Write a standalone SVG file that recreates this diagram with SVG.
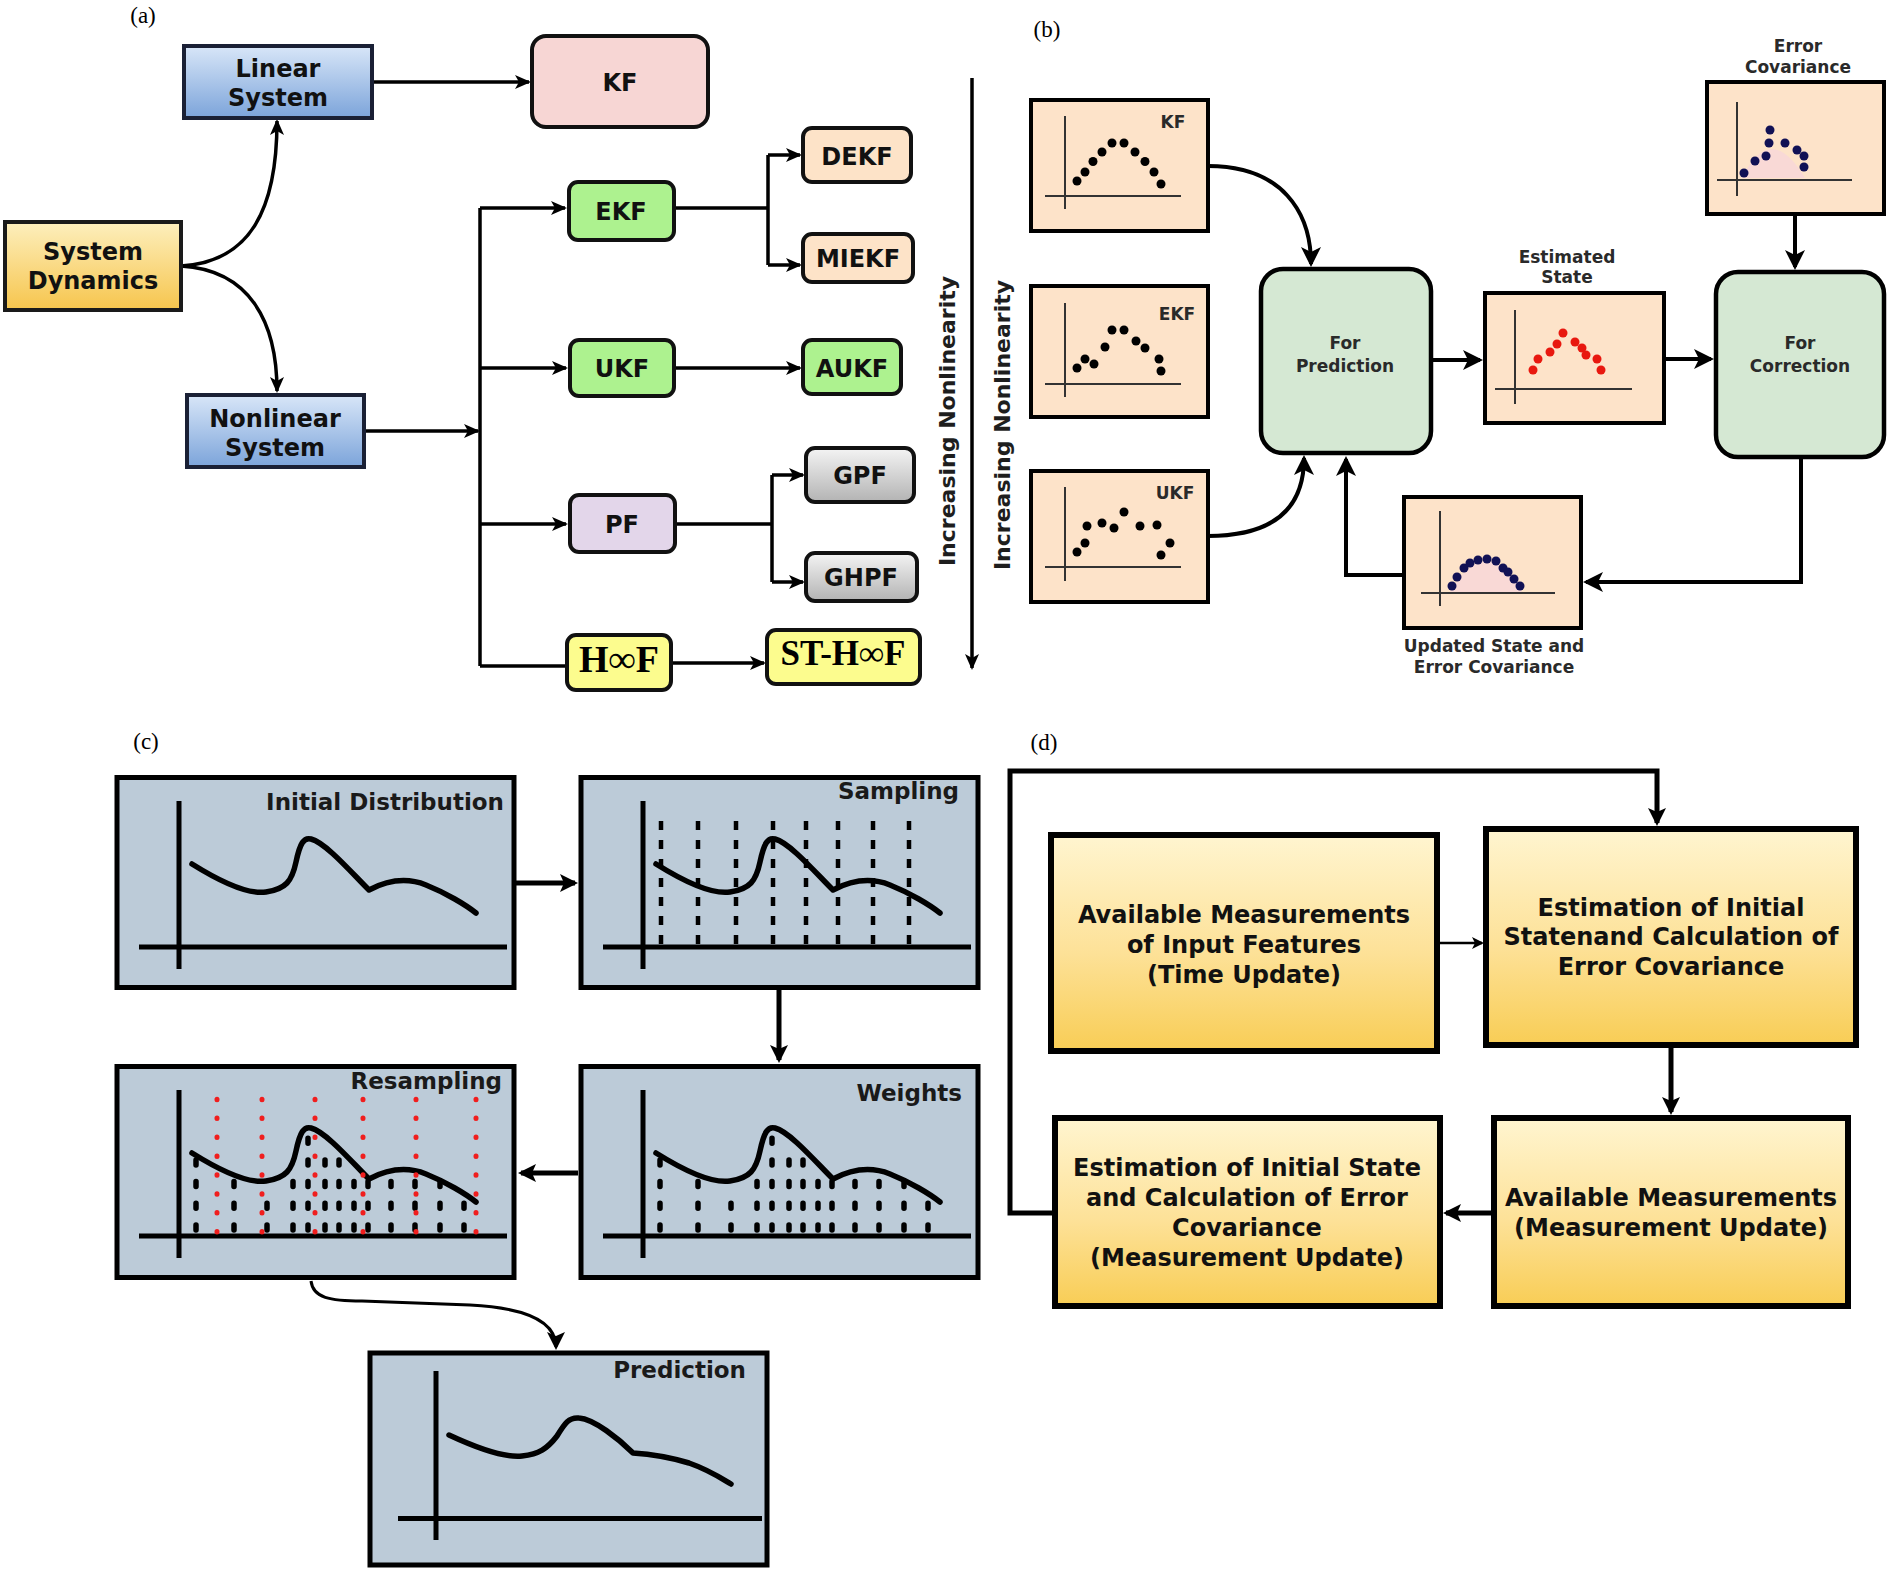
<svg xmlns="http://www.w3.org/2000/svg" width="1890" height="1570" viewBox="0 0 1890 1570">
<defs>
<style>
.tx{font-family:"DejaVu Sans","Liberation Sans",sans-serif;font-weight:bold;text-anchor:middle;fill:#111}
.s24{font-size:24px}
.s22{font-size:22px;fill:#1e1e1e}
.s17{font-size:17px;fill:#2a2a2a}
.s23{font-size:23px;text-anchor:end;fill:#1a1a1a}
.ser{font-family:"Liberation Serif","Times New Roman",serif;font-weight:bold;text-anchor:middle;fill:#000}
.pl{font-family:"Liberation Serif","Times New Roman",serif;font-size:23px;text-anchor:middle;fill:#000}
.na{stroke:#111;stroke-width:4}
.ln{fill:none;stroke:#000;stroke-width:3.5}
.lb{fill:none;stroke:#000;stroke-width:4}
.lc{fill:none;stroke:#000;stroke-width:5}
.pb{fill:#fde3c9;stroke:#000;stroke-width:4}
.gb{fill:#d5e8d3;stroke:#000;stroke-width:4.5}
.ax{stroke:#333;stroke-width:2;fill:none}
.cb{fill:#bccbd8;stroke:#000;stroke-width:5}
.db{fill:url(#gD);stroke:#000;stroke-width:6}
.k{fill:#000}
.r{fill:#e8180f}
.n{fill:#111155}
.cax{stroke:#000;stroke-width:5;fill:none}
.cur{fill:none;stroke:#000;stroke-width:5.5;stroke-linecap:round;stroke-linejoin:round}
.sd{stroke:#000;stroke-width:4.5;stroke-dasharray:9 10}
.wd{stroke:#000;stroke-width:5.5;stroke-linecap:round;stroke-dasharray:5 16.7}
.rd{stroke:#f01e1e;stroke-width:5;stroke-linecap:round;stroke-dasharray:0.5 18.4}
</style>
<linearGradient id="gBlue" x1="0" y1="0" x2="0" y2="1"><stop offset="0" stop-color="#d8e6f8"/><stop offset="1" stop-color="#7ca4da"/></linearGradient>
<linearGradient id="gSD" x1="0" y1="0" x2="0" y2="1"><stop offset="0" stop-color="#fdefbd"/><stop offset="1" stop-color="#f6c54d"/></linearGradient>
<linearGradient id="gGray" x1="0" y1="0" x2="0" y2="1"><stop offset="0" stop-color="#f4f4f4"/><stop offset="1" stop-color="#b3b3b3"/></linearGradient>
<linearGradient id="gD" x1="0" y1="0" x2="0" y2="1"><stop offset="0" stop-color="#fff5d0"/><stop offset="0.55" stop-color="#fde197"/><stop offset="1" stop-color="#f8cd55"/></linearGradient>
<marker id="mA" markerUnits="userSpaceOnUse" markerWidth="16" markerHeight="14" viewBox="0 0 16 14" refX="14" refY="7" orient="auto"><path d="M0,0 L16,7 L0,14 L4,7 z" fill="#000"/></marker>
<marker id="mB" markerUnits="userSpaceOnUse" markerWidth="20" markerHeight="20" viewBox="0 0 20 20" refX="17" refY="10" orient="auto"><path d="M0,0 L20,10 L0,20 L5,10 z" fill="#000"/></marker>
<marker id="mC" markerUnits="userSpaceOnUse" markerWidth="18" markerHeight="18" viewBox="0 0 18 18" refX="15" refY="9" orient="auto"><path d="M0,0 L18,9 L0,18 L4,9 z" fill="#000"/></marker>
<marker id="mS" markerUnits="userSpaceOnUse" markerWidth="12" markerHeight="12" viewBox="0 0 12 12" refX="10" refY="6" orient="auto"><path d="M0,0 L12,6 L0,12 L3,6 z" fill="#000"/></marker>
<g id="chart">
<path class="cax" d="M63,24 V192 M23,170 H391"/>
<path class="cur" d="M76,87 C100,102 130,118 150,115 C170,112 176,104 180,85 C184,66 188,60 195,62 C210,66 235,95 253,113 C270,104 290,100 310,108 C330,116 350,128 360,136"/>
</g>
<g id="wdash">
<line class="wd" x1="80" y1="164" x2="80" y2="92"/>
<line class="wd" x1="118" y1="164" x2="118" y2="113"/>
<line class="wd" x1="151" y1="164" x2="151" y2="135"/>
<line class="wd" x1="177" y1="164" x2="177" y2="113"/>
<line class="wd" x1="192" y1="164" x2="192" y2="70"/>
<line class="wd" x1="209" y1="164" x2="209" y2="92"/>
<line class="wd" x1="223" y1="164" x2="223" y2="92"/>
<line class="wd" x1="238" y1="164" x2="238" y2="113"/>
<line class="wd" x1="252" y1="164" x2="252" y2="113"/>
<line class="wd" x1="275" y1="164" x2="275" y2="113"/>
<line class="wd" x1="299" y1="164" x2="299" y2="113"/>
<line class="wd" x1="324" y1="164" x2="324" y2="113"/>
<line class="wd" x1="348" y1="164" x2="348" y2="135"/>
</g>
</defs>
<rect width="1890" height="1570" fill="#fff"/>

<!-- panel labels -->
<text class="pl" x="143" y="23">(a)</text>
<text class="pl" x="1047" y="37">(b)</text>
<text class="pl" x="146" y="749">(c)</text>
<text class="pl" x="1044" y="750">(d)</text>

<!-- ============ connectors ============ -->
<g id="connectors">
<!-- (a) -->
<path class="ln" d="M181,266 C250,262 277,210 277,121" marker-end="url(#mA)"/>
<path class="ln" d="M181,266 C250,270 277,322 277,391" marker-end="url(#mA)"/>
<path class="ln" d="M372,82 H529" marker-end="url(#mA)"/>
<path class="ln" d="M364,431 H478" marker-end="url(#mA)"/>
<path class="ln" d="M480,208 V666"/>
<path class="ln" d="M480,208 H565" marker-end="url(#mA)"/>
<path class="ln" d="M480,368 H566" marker-end="url(#mA)"/>
<path class="ln" d="M480,524 H566" marker-end="url(#mA)"/>
<path class="ln" d="M480,666 H567"/>
<path class="ln" d="M674,208 H768 M768,155 V265"/>
<path class="ln" d="M768,155 H800" marker-end="url(#mA)"/>
<path class="ln" d="M768,265 H800" marker-end="url(#mA)"/>
<path class="ln" d="M674,368 H800" marker-end="url(#mA)"/>
<path class="ln" d="M675,524 H772 M772,475 V582"/>
<path class="ln" d="M772,475 H803" marker-end="url(#mA)"/>
<path class="ln" d="M772,582 H803" marker-end="url(#mA)"/>
<path class="ln" d="M671,663 H764" marker-end="url(#mA)"/>
<path class="ln" d="M972,78 V668" marker-end="url(#mA)"/>
<!-- (b) -->
<path class="lb" d="M1208,166 C1282,166 1311,212 1311,264" marker-end="url(#mB)"/>
<path class="lb" d="M1208,536 C1285,536 1304,498 1304,458" marker-end="url(#mB)"/>
<path class="lb" d="M1433,360 H1480" marker-end="url(#mB)"/>
<path class="lb" d="M1666,359 H1711" marker-end="url(#mB)"/>
<path class="lb" d="M1795,216 V267" marker-end="url(#mB)"/>
<path class="lb" d="M1801,459 V582 H1586" marker-end="url(#mB)"/>
<path class="lb" d="M1402,575 H1346 V459" marker-end="url(#mB)"/>
<!-- (c) -->
<path class="lc" d="M516,883 H575" marker-end="url(#mC)"/>
<path class="lc" d="M779,990 V1060" marker-end="url(#mC)"/>
<path class="lc" d="M578,1173 H521" marker-end="url(#mC)"/>
<path fill="none" stroke="#000" stroke-width="3" d="M311,1281 C313,1298 330,1301 362,1301 L470,1305 C528,1308 556,1322 556,1347" marker-end="url(#mC)"/>
<!-- (d) -->
<path fill="none" stroke="#000" stroke-width="2.5" d="M1440,943 H1482" marker-end="url(#mS)"/>
<path class="lc" d="M1671,1048 V1112" marker-end="url(#mC)"/>
<path class="lc" d="M1491,1213 H1446" marker-end="url(#mC)"/>
<path class="lc" stroke-linejoin="miter" d="M1052,1213 H1010 V771 H1657 V823" marker-end="url(#mC)"/>
</g>

<!-- ============ panel (a) nodes ============ -->
<g id="linear-system"><rect x="184" y="46" width="188" height="72" fill="url(#gBlue)" stroke="#1a2035" stroke-width="4"/>
<text class="tx s24" x="278" y="77">Linear</text><text class="tx s24" x="278" y="106">System</text></g>
<g id="kf"><rect x="532" y="36" width="176" height="91" rx="14" fill="#f7d6d4" class="na"/>
<text class="tx s24" x="620" y="91">KF</text></g>
<g id="system-dynamics"><rect x="5" y="222" width="176" height="88" fill="url(#gSD)" stroke="#1a1a1a" stroke-width="4"/>
<text class="tx s24" x="93" y="260">System</text><text class="tx s24" x="93" y="289">Dynamics</text></g>
<g id="nonlinear-system"><rect x="187" y="395" width="177" height="72" fill="url(#gBlue)" stroke="#1a2035" stroke-width="4"/>
<text class="tx s24" x="275" y="427">Nonlinear</text><text class="tx s24" x="275" y="456">System</text></g>
<g id="ekf"><rect x="569" y="182" width="105" height="58" rx="9" fill="#adf28f" class="na"/><text class="tx s24" x="621" y="220">EKF</text></g>
<g id="dekf"><rect x="803" y="128" width="108" height="54" rx="9" fill="#fde3c8" class="na"/><text class="tx s24" x="857" y="165">DEKF</text></g>
<g id="miekf"><rect x="803" y="234" width="110" height="48" rx="9" fill="#fde3c8" class="na"/><text class="tx s24" x="858" y="267">MIEKF</text></g>
<g id="ukf"><rect x="570" y="340" width="104" height="56" rx="9" fill="#adf28f" class="na"/><text class="tx s24" x="622" y="377">UKF</text></g>
<g id="aukf"><rect x="803" y="340" width="98" height="54" rx="9" fill="#adf28f" class="na"/><text class="tx s24" x="852" y="377">AUKF</text></g>
<g id="pf"><rect x="570" y="495" width="105" height="57" rx="9" fill="#e3d6ea" class="na"/><text class="tx s24" x="622" y="533">PF</text></g>
<g id="gpf"><rect x="806" y="448" width="108" height="54" rx="9" fill="url(#gGray)" class="na"/><text class="tx s24" x="860" y="484">GPF</text></g>
<g id="ghpf"><rect x="806" y="553" width="111" height="48" rx="9" fill="url(#gGray)" class="na"/><text class="tx s24" x="861" y="586">GHPF</text></g>
<g id="hinf"><rect x="567" y="635" width="104" height="55" rx="9" fill="#fcfc8e" class="na"/><text class="ser" font-size="38" x="619" y="672">H∞F</text></g>
<g id="st-hinf"><rect x="767" y="630" width="153" height="54" rx="9" fill="#fcfc8e" class="na"/><text class="ser" font-size="35" x="843" y="665">ST-H∞F</text></g>
<text class="tx s22" transform="translate(955,421) rotate(-90)">Increasing Nonlinearity</text>

<!-- ============ panel (b) nodes ============ -->
<text class="tx s22" transform="translate(1010,425) rotate(-90)">Increasing Nonlinearity</text>
<g id="plot-kf"><rect class="pb" x="1031" y="100" width="177" height="131"/>
<path class="ax" d="M1065,116 V209 M1045,196 H1181"/>
<g class="k"><circle cx="1077" cy="181" r="4.5"/><circle cx="1085" cy="172" r="4.5"/><circle cx="1093" cy="161.5" r="4.5"/><circle cx="1102" cy="152" r="4.5"/><circle cx="1112" cy="143" r="4.5"/><circle cx="1124" cy="143" r="4.5"/><circle cx="1135" cy="152" r="4.5"/><circle cx="1145" cy="161.5" r="4.5"/><circle cx="1154" cy="172" r="4.5"/><circle cx="1161" cy="184" r="4.5"/></g>
<text class="tx s17" x="1173" y="128">KF</text></g>
<g id="plot-ekf"><rect class="pb" x="1031" y="286" width="177" height="131"/>
<path class="ax" d="M1065,303 V397 M1045,384 H1181"/>
<g class="k"><circle cx="1077" cy="368" r="4.5"/><circle cx="1085" cy="359" r="4.5"/><circle cx="1094" cy="364" r="4.5"/><circle cx="1105" cy="347" r="4.5"/><circle cx="1112" cy="330" r="4.5"/><circle cx="1124" cy="330" r="4.5"/><circle cx="1136" cy="341" r="4.5"/><circle cx="1145" cy="348" r="4.5"/><circle cx="1159" cy="359" r="4.5"/><circle cx="1161" cy="371" r="4.5"/></g>
<text class="tx s17" x="1177" y="320">EKF</text></g>
<g id="plot-ukf"><rect class="pb" x="1031" y="471" width="177" height="131"/>
<path class="ax" d="M1065,487 V581 M1045,567 H1181"/>
<g class="k"><circle cx="1077" cy="552" r="4.5"/><circle cx="1085" cy="543" r="4.5"/><circle cx="1087" cy="526" r="4.5"/><circle cx="1102" cy="523" r="4.5"/><circle cx="1114" cy="528" r="4.5"/><circle cx="1124" cy="512" r="4.5"/><circle cx="1140" cy="526" r="4.5"/><circle cx="1157" cy="525" r="4.5"/><circle cx="1161" cy="555" r="4.5"/><circle cx="1170" cy="543" r="4.5"/></g>
<text class="tx s17" x="1175" y="499">UKF</text></g>
<g id="for-prediction"><rect class="gb" x="1261" y="269" width="170" height="184" rx="22"/>
<text class="tx s17" x="1345" y="349">For</text><text class="tx s17" x="1345" y="372">Prediction</text></g>
<g id="estimated-state"><text class="tx s17" x="1567" y="263">Estimated</text><text class="tx s17" x="1567" y="283">State</text>
<rect class="pb" x="1485" y="293" width="179" height="130"/>
<path class="ax" d="M1515,310 V404 M1495,389 H1632"/>
<g class="r"><circle cx="1533" cy="370" r="4.5"/><circle cx="1538" cy="359" r="4.5"/><circle cx="1550" cy="352" r="4.5"/><circle cx="1557" cy="344" r="4.5"/><circle cx="1563" cy="333" r="4.5"/><circle cx="1575" cy="342" r="4.5"/><circle cx="1582" cy="348" r="4.5"/><circle cx="1586" cy="355" r="4.5"/><circle cx="1597" cy="359" r="4.5"/><circle cx="1601" cy="370" r="4.5"/></g></g>
<g id="for-correction"><rect class="gb" x="1716" y="272" width="168" height="185" rx="22"/>
<text class="tx s17" x="1800" y="349">For</text><text class="tx s17" x="1800" y="372">Correction</text></g>
<g id="error-covariance"><text class="tx s17" x="1798" y="52">Error</text><text class="tx s17" x="1798" y="73">Covariance</text>
<rect class="pb" x="1707" y="82" width="177" height="132"/>
<path d="M1742,178 Q1770,120 1805,178 Z" fill="#f9d9d6"/>
<path class="ax" d="M1737,102 V196 M1717,180 H1852"/>
<g class="n"><circle cx="1744" cy="173" r="4.5"/><circle cx="1755" cy="161" r="4.5"/><circle cx="1766" cy="156" r="4.5"/><circle cx="1769" cy="143" r="4.5"/><circle cx="1770" cy="130" r="4.5"/><circle cx="1785" cy="143" r="4.5"/><circle cx="1797" cy="150" r="4.5"/><circle cx="1804" cy="156" r="4.5"/><circle cx="1804" cy="167" r="4.5"/></g></g>
<g id="updated-state"><rect class="pb" x="1404" y="497" width="177" height="131"/>
<path d="M1450,592 Q1486,530 1522,592 Z" fill="#f9d9d6"/>
<path class="ax" d="M1440,511 V606 M1421,593 H1555"/>
<g class="n"><circle cx="1452" cy="586" r="4.5"/><circle cx="1457" cy="577" r="4.5"/><circle cx="1464" cy="568" r="4.5"/><circle cx="1470" cy="563" r="4.5"/><circle cx="1478" cy="560" r="4.5"/><circle cx="1487" cy="559" r="4.5"/><circle cx="1496" cy="561" r="4.5"/><circle cx="1503" cy="568" r="4.5"/><circle cx="1508" cy="572" r="4.5"/><circle cx="1514" cy="579" r="4.5"/><circle cx="1520" cy="586" r="4.5"/></g>
<text class="tx s17" x="1494" y="652">Updated State and</text><text class="tx s17" x="1494" y="673">Error Covariance</text></g>

<!-- ============ panel (c) nodes ============ -->
<g id="initial-distribution"><rect class="cb" x="117" y="777.5" width="397" height="210"/>
<use href="#chart" x="116" y="777"/>
<text class="tx s23" x="504" y="810">Initial Distribution</text></g>
<g id="sampling"><rect class="cb" x="581" y="777.5" width="397" height="210"/>
<use href="#chart" x="580" y="777"/>
<g transform="translate(580,777)">
<line class="sd" x1="81" y1="167" x2="81" y2="42"/><line class="sd" x1="118" y1="167" x2="118" y2="42"/><line class="sd" x1="156" y1="167" x2="156" y2="42"/><line class="sd" x1="193" y1="167" x2="193" y2="42"/><line class="sd" x1="226" y1="167" x2="226" y2="42"/><line class="sd" x1="258" y1="167" x2="258" y2="42"/><line class="sd" x1="293" y1="167" x2="293" y2="42"/><line class="sd" x1="329" y1="167" x2="329" y2="42"/></g>
<text class="tx s23" x="959" y="799">Sampling</text></g>
<g id="weights"><rect class="cb" x="581" y="1066.5" width="397" height="211"/>
<use href="#chart" x="580" y="1066"/>
<use href="#wdash" x="580" y="1066"/>
<text class="tx s23" x="962" y="1101">Weights</text></g>
<g id="resampling"><rect class="cb" x="117" y="1066.5" width="397" height="211"/>
<use href="#chart" x="116" y="1066"/>
<use href="#wdash" x="116" y="1066"/>
<g transform="translate(116,1066)">
<line class="rd" x1="101" y1="166" x2="101" y2="33"/><line class="rd" x1="146" y1="166" x2="146" y2="33"/><line class="rd" x1="199" y1="166" x2="199" y2="33"/><line class="rd" x1="247" y1="166" x2="247" y2="33"/><line class="rd" x1="300" y1="166" x2="300" y2="33"/><line class="rd" x1="360" y1="166" x2="360" y2="33"/></g>
<text class="tx s23" x="502" y="1089">Resampling</text></g>
<g id="prediction"><rect class="cb" x="370" y="1353" width="397" height="212"/>
<path class="cax" d="M436,1371 V1540 M398,1518.5 H762"/>
<path class="cur" d="M449,1435 C479,1449 504,1458 522,1456 C539,1454 547,1449 557,1436 C565,1423 569,1417 579,1418 C594,1419 619,1439 633,1453 C649,1454 669,1457 689,1463 C709,1470 721,1478 731,1484"/>
<text class="tx s23" x="746" y="1378">Prediction</text></g>

<!-- ============ panel (d) nodes ============ -->
<g id="avail-input"><rect class="db" x="1051" y="835" width="386" height="216"/>
<text class="tx s24" x="1244" y="923">Available Measurements</text><text class="tx s24" x="1244" y="953">of Input Features</text><text class="tx s24" x="1244" y="983">(Time Update)</text></g>
<g id="estimation-initial"><rect class="db" x="1486" y="829" width="370" height="216"/>
<text class="tx s24" x="1671" y="916">Estimation of Initial</text><text class="tx s24" x="1671" y="945">Statenand Calculation of</text><text class="tx s24" x="1671" y="975">Error Covariance</text></g>
<g id="estimation-measurement"><rect class="db" x="1055" y="1118" width="385" height="188"/>
<text class="tx s24" x="1247" y="1176">Estimation of Initial State</text><text class="tx s24" x="1247" y="1206">and Calculation of Error</text><text class="tx s24" x="1247" y="1236">Covariance</text><text class="tx s24" x="1247" y="1266">(Measurement Update)</text></g>
<g id="avail-measurement"><rect class="db" x="1494" y="1118" width="354" height="188"/>
<text class="tx s24" x="1671" y="1206">Available Measurements</text><text class="tx s24" x="1671" y="1236">(Measurement Update)</text></g>
</svg>
